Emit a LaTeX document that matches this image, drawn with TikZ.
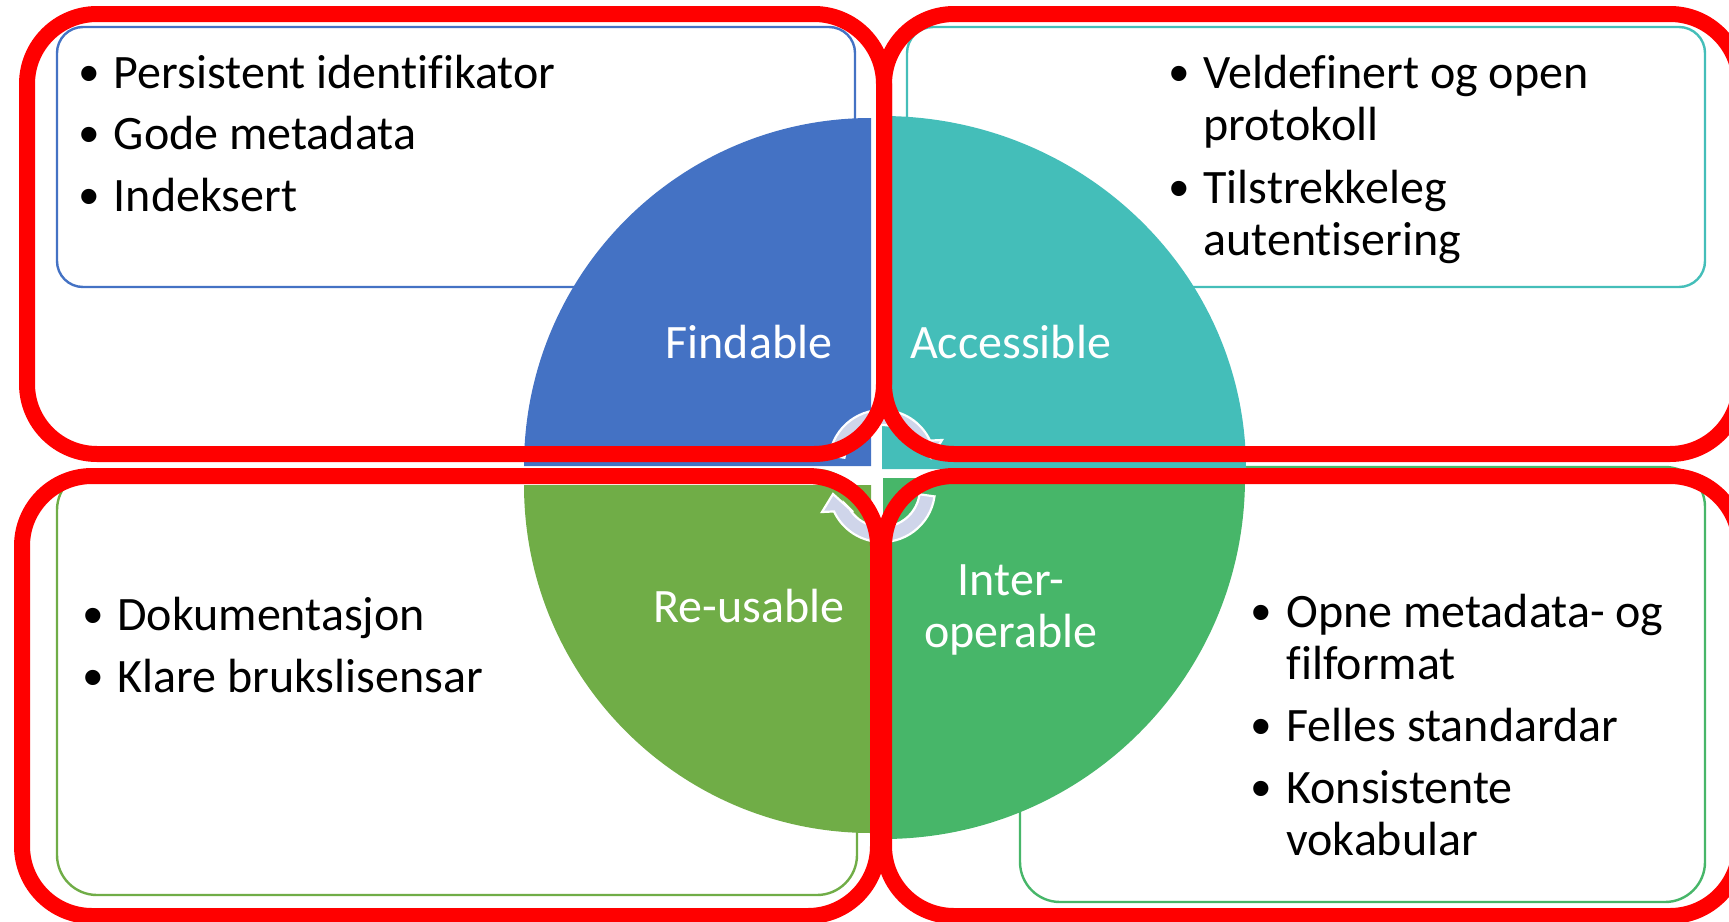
\documentclass[tikz,border=0pt]{standalone}
\usepackage{fontspec}
\setmainfont[Ligatures=NoCommon]{Carlito}
\newfontfamily\bulfont{Liberation Sans}
\definecolor{cblue}{HTML}{4472C4}
\definecolor{cteal}{HTML}{44BEB9}
\definecolor{cgreen}{HTML}{47B669}
\definecolor{colive}{HTML}{70AD47}
\definecolor{clav}{HTML}{CFD5EA}
\tikzset{
  redbox/.style={draw=red,line width=8pt,rounded corners=35pt},
  thinbox/.style={line width=1.2pt,fill=white},
  item/.style={anchor=base west,inner sep=0pt,align=left,font=\fontsize{24}{26}\selectfont,text=black},
  bul/.style={anchor=base,inner sep=0pt,font=\bulfont\fontsize{28}{28}\selectfont,text=black},
  lab/.style={anchor=base,inner sep=0pt,align=center,font=\fontsize{24}{26}\selectfont,text=white},
  cyc/.style={fill=clav,draw=white,line width=1.1pt,line join=miter}
}
\begin{document}
\begin{tikzpicture}[x=0.5pt,y=-0.5pt]
\useasboundingbox (0,0) rectangle (1729,921);
\clip (0,0) rectangle (1729,921);
% text boxes
\draw[thinbox,draw=cblue,rounded corners=13pt] (57,27) rectangle (855,287);
\draw[thinbox,draw=cteal,rounded corners=13pt] (907,27) rectangle (1705,287);
\draw[thinbox,draw=colive,rounded corners=20pt] (57,470) rectangle (857,895);
\draw[thinbox,draw=cgreen,rounded corners=20pt] (1020,467) rectangle (1705,902);
% quadrants
\fill[cblue] (871,466) -- (524,466) arc[start angle=180,end angle=270,x radius=347,y radius=348] -- cycle;
\fill[cteal] (882,469) -- (882,116) arc[start angle=270,end angle=360,x radius=364,y radius=353] -- cycle;
\fill[colive] (871,485) -- (524,485) arc[start angle=180,end angle=90,x radius=347,y radius=348] -- cycle;
\fill[cgreen] (883,478) -- (1245,478) arc[start angle=0,end angle=90,x radius=362,y radius=361] -- cycle;
% cycle arrows
\draw[cyc] (934.5,496.4) arc[start angle=8,end angle=155,radius=53] -- (822,512) -- (833,494) -- (853,512) -- (849,508) arc[start angle=150,end angle=8,radius=38] -- cycle;
\draw[cyc] (829.5,455.6) arc[start angle=188,end angle=335,radius=53] -- (942,440) -- (931,458) -- (911,440) -- (915,444) arc[start angle=330,end angle=188,radius=38] -- cycle;
% quadrant labels
\node[lab] (findable) at (749,358) {Findable};
\node[lab] (accessible) at (1010.5,358) {Accessible};
\node[lab] (reusable) at (749,622) {Re-usable};
\node[lab] (interop) at (1011,647) {Inter-\\operable};
% bullets and texts
\node[bul] (b1) at (89.5,92) {•};
\node[item] (t1) at (113.5,88) {Persistent identifikator};
\node[bul] (b2) at (89.5,153) {•};
\node[item] (t2) at (113.5,149) {Gode metadata};
\node[bul] (b3) at (89.5,215) {•};
\node[item] (t3) at (113.5,211) {Indeksert};
\node[bul] (b4) at (1179.5,92) {•};
\node[item] (t4) at (1203,140) {Veldefinert og open\\protokoll};
\node[bul] (b5) at (1179.5,207) {•};
\node[item] (t5) at (1203,255) {Tilstrekkeleg\\autentisering};
\node[bul] (b6) at (93,634) {•};
\node[item] (t6) at (117,630) {Dokumentasjon};
\node[bul] (b7) at (93,696) {•};
\node[item] (t7) at (117,692) {Klare brukslisensar};
\node[bul] (b8) at (1261.5,631) {•};
\node[item] (t8) at (1286,679) {Opne metadata- og\\filformat};
\node[bul] (b9) at (1261.5,745) {•};
\node[item] (t9) at (1286,741) {Felles standardar};
\node[bul] (b10) at (1261.5,807) {•};
\node[item] (t10) at (1286,855) {Konsistente\\vokabular};
% red frames
\draw[redbox] (27,14) rectangle (884,454);
\draw[redbox] (884,14) rectangle (1740,454);
\draw[redbox] (22,476) rectangle (878,916);
\draw[redbox] (884,476) rectangle (1740,916);
\end{tikzpicture}
\end{document}
